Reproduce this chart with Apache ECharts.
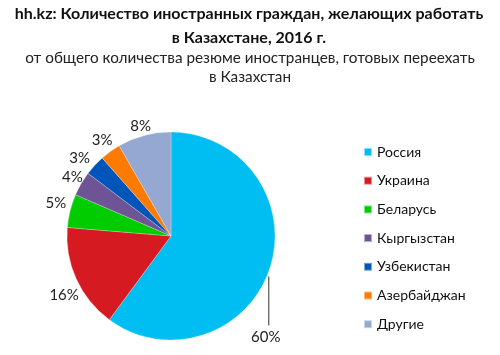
<!DOCTYPE html>
<html><head><meta charset="utf-8">
<script src="https://cdn.jsdelivr.net/npm/echarts@6/dist/echarts.min.js"></script>
<style>html,body{margin:0;padding:0;background:#fff}#c{width:500px;height:355px}</style>
</head><body><div id="c"></div>
<script>
const categories = ['Россия','Украина','Беларусь','Кыргызстан','Узбекистан','Азербайджан','Другие'];
const values = [60.1, 16.2, 5.2, 3.8, 3.2, 3.2, 8.3];
const labels = ['60%','16%','5%','4%','3%','3%','8%'];
const colors = ['#00BEF2','#D51A22','#00CC00','#6E5494','#0055BB','#FF7A00','#94A8D2'];
const titleLines = ['hh.kz: Количество иностранных граждан, желающих работать', 'в Казахстане, 2016 г.'];
const subLines = ['от общего количества резюме иностранцев, готовых переехать', 'в Казахстан'];

const chart = echarts.init(document.getElementById('c'), null, {renderer:'canvas'});
const font = 'Lato';
const titleTops = [4, 28];
const subTops = [48, 67];
const labelShift = [[0,0],[7,14],[1,-6],[6,-4],[-1,-4],[5,-7],[8,-5]];
chart.setOption({
  animation:false,
  color: colors,
  title: titleLines.map((t,i)=>({
    text:t, left:[249,249][i], top:titleTops[i], textAlign:'center', padding:0,
    textStyle:{fontFamily:font, fontWeight:'bold', fontSize:16, color:'#111', lineHeight:20}
  })).concat(subLines.map((t,i)=>({
    text:t, left:250, top:subTops[i], textAlign:'center', padding:0,
    textStyle:{fontFamily:font, fontWeight:'normal', fontSize:15.3, color:'#222', lineHeight:20}
  }))),
  legend:{
    orient:'vertical', left:358, top:139, itemWidth:8, itemHeight:8, itemGap:12.7,
    icon:'rect',
    textStyle:{fontFamily:font, fontSize:14, color:'#111', lineHeight:16},
    data: categories
  },
  series:[{
    type:'pie', radius:104, center:[171,236], startAngle:90, clockwise:true,
    avoidLabelOverlap:false,
    itemStyle:{borderColor:'rgba(255,255,255,0.5)', borderWidth:0.5},
    label:{
      show:true, position:'outside', fontFamily:font, fontSize:15, color:'#222',
      formatter: p => labels[p.dataIndex], distanceToLabelLine:0
    },
    labelLine:{show:false, length:5, length2:0},
    labelLayout: function(p){
      const a = p.labelLinePoints[0];
      if(p.dataIndex===0){
        return {x:a[0]-4, y:a[1]+69, align:'center', verticalAlign:'middle',
          labelLinePoints:[[a[0]-1,a[1]+8],[a[0]-1,a[1]+57],[a[0]-1,a[1]+57]]};
      }
      const s = labelShift[p.dataIndex];
      return {dx:s[0], dy:s[1]};
    },
    emphasis:{disabled:true},
    data: categories.map((n,i)=>({name:n, value:values[i],
      labelLine: i===0 ? {show:true, lineStyle:{color:'#333', width:1}} : {show:false}}))
  }]
});
</script></body></html>
